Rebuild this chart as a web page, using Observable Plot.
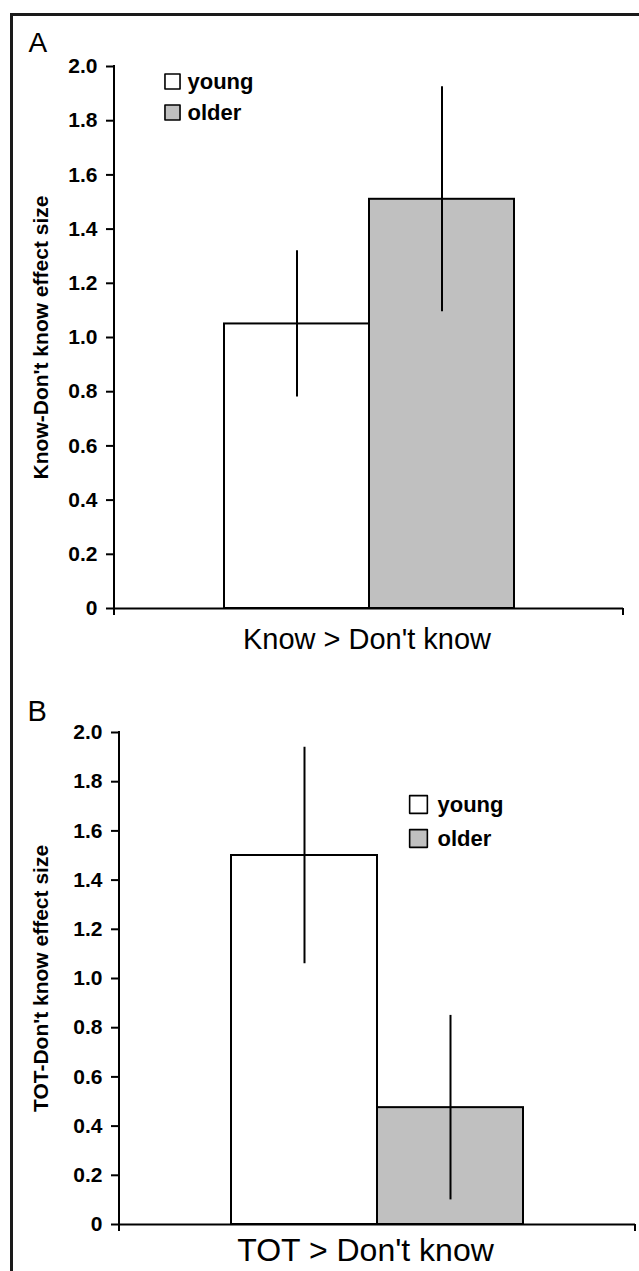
<!DOCTYPE html>
<html>
<head>
<meta charset="utf-8">
<script src="https://cdn.jsdelivr.net/npm/d3@7"></script>
<script src="https://cdn.jsdelivr.net/npm/@observablehq/plot@0.6"></script>
<style>
  html, body { margin: 0; padding: 0; background: white; }
  #wrap { position: relative; width: 639px; height: 1271px; overflow: hidden; background: white; }
  #panelA { position: absolute; left: 0; top: 0; }
  #panelB { position: absolute; left: 0; top: 680px; }
  #border { position: absolute; left: 10px; top: 13px; width: 700px; height: 1400px;
            border-top: 3px solid #1a1a1a; border-left: 3px solid #1a1a1a; pointer-events: none; z-index: 5; }
</style>
</head>
<body>
<div id="wrap">
  <div id="panelA"></div>
  <div id="panelB"></div>
  <div id="border"></div>
</div>
<script>
// ---- data ----
const groups = ["young", "older"];
const groupFills = ["white", "#c0c0c0"];
const yTicks = [0, 0.2, 0.4, 0.6, 0.8, 1.0, 1.2, 1.4, 1.6, 1.8, 2.0];

const panelALetter = "A";
const panelACategory = "Know > Don't know";
const panelAYLabel = "Know-Don't know effect size";
const panelAValues = [1.05, 1.51];
const panelAErrors = [0.27, 0.415];

const panelBLetter = "B";
const panelBCategory = "TOT > Don't know";
const panelBYLabel = "TOT-Don't know effect size";
const panelBValues = [1.50, 0.475];
const panelBErrors = [0.44, 0.375];

const FONT = "'Liberation Sans', Arial, Helvetica, sans-serif";

function axisFrame(index, scales, values, dimensions) {
  const {width, height, marginLeft, marginRight, marginTop, marginBottom} = dimensions;
  const g = d3.create("svg:g").attr("stroke", "black").attr("stroke-width", 2).attr("fill", "none");
  g.append("line").attr("x1", marginLeft).attr("x2", marginLeft)
    .attr("y1", marginTop - 1).attr("y2", height - marginBottom + 7);
  g.append("line").attr("x1", width - marginRight).attr("x2", width - marginRight)
    .attr("y1", height - marginBottom).attr("y2", height - marginBottom + 7);
  return g.node();
}

function panel(cfg) {
  const data = groups.map((g, i) => ({group: g, value: cfg.values[i], err: cfg.errors[i]}));
  const m = [
    Plot.barY(data, {x: "group", y: "value", fill: "group", stroke: "black", strokeWidth: 2}),
    Plot.ruleX(data, {x: "group", y1: d => d.value - d.err, y2: d => d.value + d.err, stroke: "black", strokeWidth: 2}),
    Plot.ruleY([0], {stroke: "black", strokeWidth: 2}),
    axisFrame,
    Plot.axisY({ticks: yTicks, tickSize: 8, tickPadding: 9, strokeWidth: 2, label: null,
      tickFormat: d => d === 0 ? "0" : d.toFixed(1), fontSize: 21, fontWeight: "bold"}),
    Plot.text([cfg.yLabel], {frameAnchor: "left", dx: cfg.yLabelDx, rotate: -90, text: d => d,
      textAnchor: "middle", lineAnchor: "middle", fontSize: 21, fontWeight: "bold", fill: "black"}),
    Plot.text([cfg.letter], {frameAnchor: "top-left", dx: cfg.letterDx, dy: cfg.letterDy, text: d => d,
      lineAnchor: "top", textAnchor: "start", fontSize: cfg.letterSize, fontWeight: "normal", fill: "black"}),
    Plot.text([cfg.category], {frameAnchor: "bottom", dx: cfg.catDx, dy: cfg.catDy, text: d => d, lineAnchor: "bottom",
      textAnchor: "middle", fontSize: cfg.catSize, fontWeight: "normal", fill: "black"})
  ];
  groups.forEach((g, i) => {
    m.push(Plot.dot([g], {frameAnchor: "top-left", dx: cfg.legDx, dy: cfg.legDy + i * cfg.legStep,
      symbol: "square", r: cfg.legR, fill: groupFills[i], stroke: "black", strokeWidth: 1.6, strokeLinejoin: "round"}));
    m.push(Plot.text([g], {frameAnchor: "top-left", dx: cfg.legTextDx, dy: cfg.legDy + i * cfg.legStep,
      text: d => d, textAnchor: "start", lineAnchor: "middle", fontSize: 22, fontWeight: "bold", fill: "black"}));
  });
  return Plot.plot({
    width: 639,
    height: cfg.height,
    marginLeft: cfg.marginLeft,
    marginRight: cfg.marginRight,
    marginTop: cfg.marginTop,
    marginBottom: cfg.marginBottom,
    style: {fontFamily: FONT, fontSize: "21px", color: "black", background: "transparent", overflow: "visible"},
    x: {domain: groups, paddingInner: 0, paddingOuter: cfg.outer, axis: null},
    y: {domain: [0, 2], axis: null},
    color: {domain: groups, range: groupFills},
    marks: m
  });
}

document.getElementById("panelA").appendChild(panel({
  values: panelAValues, errors: panelAErrors, letter: panelALetter, category: panelACategory, yLabel: panelAYLabel,
  height: 680, marginLeft: 114, marginRight: 16, marginTop: 66, marginBottom: 72, outer: 0.75,
  yLabelDx: -73, letterDx: -86, letterDy: -34, letterSize: 28, catDx: -2, catDy: 40, catSize: 29,
  legDx: 58, legDy: 15, legStep: 31, legR: 8.5, legTextDx: 73
}));

document.getElementById("panelB").appendChild(panel({
  values: panelBValues, errors: panelBErrors, letter: panelBLetter, category: panelBCategory, yLabel: panelBYLabel,
  height: 591, marginLeft: 119, marginRight: 4, marginTop: 52, marginBottom: 47, outer: 0.76,
  yLabelDx: -78, letterDx: -92, letterDy: -32, letterSize: 29, catDx: -12, catDy: 36, catSize: 32,
  legDx: 299, legDy: 72, legStep: 34, legR: 10, legTextDx: 318
}));
</script>
</body>
</html>
